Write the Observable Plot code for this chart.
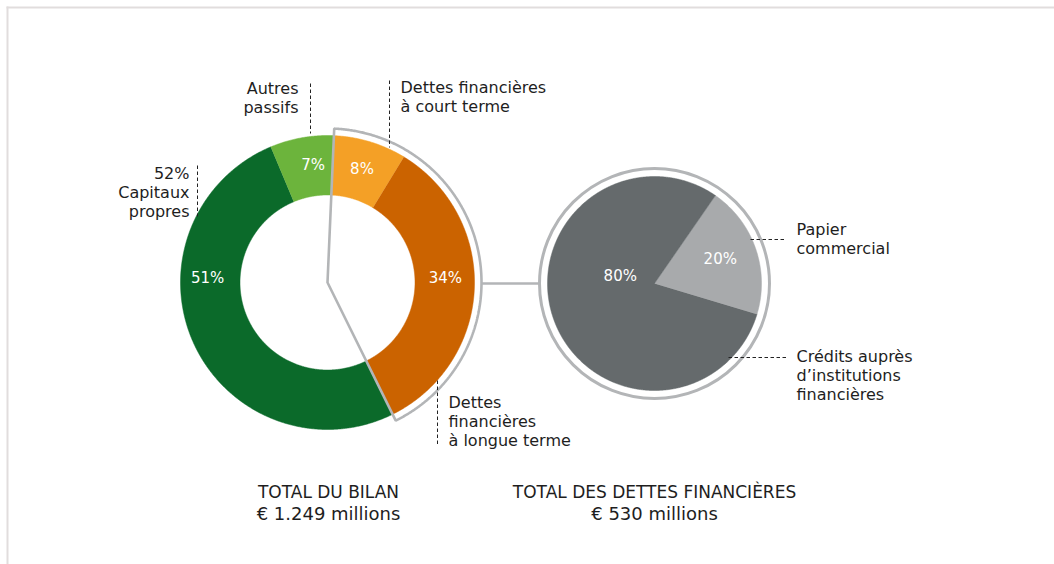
<!DOCTYPE html>
<html><head><meta charset="utf-8">
<script src="https://cdn.jsdelivr.net/npm/d3@7"></script>
<script src="https://cdn.jsdelivr.net/npm/@observablehq/plot@0.6"></script>
<style>html,body{margin:0;padding:0;background:#fff}#chart svg{display:block}</style>
</head><body><div id="chart"></div>
<script>
// ---- data ----
const bilanCategories = ["Dettes financières à court terme", "Dettes financières à longue terme", "Capitaux propres", "Autres passifs"];
const bilanValues = [8, 34, 51, 7];
const bilanLabels = ["8%", "34%", "51%", "7%"];
const detteCategories = ["Papier commercial", "Crédits auprès d’institutions financières"];
const detteValues = [20, 80];
const detteLabels = ["20%", "80%"];
const annotationTexts = [
  "Dettes financières\nà court terme",
  "Dettes\nfinancières\nà longue terme",
  "52%\nCapitaux\npropres",
  "Autres\npassifs",
  "Papier\ncommercial",
  "Crédits auprès\nd’institutions\nfinancières"
];
const totalTitles = ["TOTAL DU BILAN", "TOTAL DES DETTES FINANCIÈRES"];
const totalAmounts = ["€ 1.249 millions", "€ 530 millions"];

// ---- layout & style ----
const W = 1054, H = 564;
const bilanColors = ["#f4a026", "#cb6300", "#0b6a2a", "#6cb43c"];
const detteColors = ["#a8aaac", "#656a6c"];
const outlineColor = "#b3b5b7";
const deg = Math.PI / 180;
const donut = {cx: 327, cy: 282, r0: 87.5, r1: 147, rot: 2.5 * deg, outlineR: 154};
const pie = {cx: 654, cy: 283, r: 107, outlineR: 115, rot: 34.7 * deg};
const bilanLabelPos = [{a: 17, r: 118}, {a: 88, r: 118}, {a: 272, r: 120}, {a: 353, r: 118}];
const detteLabelPos = [{a: 70, r: 70}, {a: 282, r: 35}];
const annotLayout = [
  {x: 400, y: 96, anchor: "start", lx1: 389, ly1: 80, lx2: 389, ly2: 147},
  {x: 448, y: 420, anchor: "start", lx1: 437, ly1: 380, lx2: 437, ly2: 445},
  {x: 189, y: 191.5, anchor: "end", lx1: 197, ly1: 165, lx2: 197, ly2: 216},
  {x: 298, y: 97, anchor: "end", lx1: 310, ly1: 83, lx2: 310, ly2: 133},
  {x: 796, y: 237.5, anchor: "start", lx1: 750, ly1: 239, lx2: 786, ly2: 239},
  {x: 796, y: 374, anchor: "start", lx1: 728, ly1: 357, lx2: 786, ly2: 357}
];
const totalX = [328, 654];

// ---- geometry from values ----
const polar = (c, r, a) => ({x: c.cx + r * Math.sin(a), y: c.cy - r * Math.cos(a)});
function slicePoints(key, color, c, r0, r1, a0, a1) {
  const n = Math.max(2, Math.ceil((a1 - a0) / (0.4 * deg)));
  const pts = [];
  for (let i = 0; i <= n; i++) pts.push({key, color, ...polar(c, r1, a0 + (a1 - a0) * i / n)});
  if (r0 > 0) for (let i = n; i >= 0; i--) pts.push({key, color, ...polar(c, r0, a0 + (a1 - a0) * i / n)});
  else pts.push({key, color, x: c.cx, y: c.cy});
  return pts;
}
const bilanArcs = d3.pie().sort(null).startAngle(donut.rot).endAngle(donut.rot + 2 * Math.PI)(bilanValues);
const detteArcs = d3.pie().sort(null).startAngle(pie.rot).endAngle(pie.rot + 2 * Math.PI)(detteValues);

const slices = [];
bilanArcs.forEach((a, i) => slices.push(...slicePoints(bilanCategories[i], bilanColors[i], donut, donut.r0, donut.r1, a.startAngle, a.endAngle)));
detteArcs.forEach((a, i) => slices.push(...slicePoints(detteCategories[i], detteColors[i], pie, 0, pie.r, a.startAngle, a.endAngle)));

// exploded wedge outline covering the financial debts (first two slices)
const wA0 = bilanArcs[0].startAngle, wA1 = bilanArcs[1].endAngle;
const wedge = [{x: donut.cx, y: donut.cy}, ...slicePoints("w", "", donut, 0, donut.outlineR, wA0, wA1).slice(0, -1), {x: donut.cx, y: donut.cy}];
const connector = [{x1: donut.cx + donut.outlineR, y1: donut.cy + 1, x2: pie.cx - pie.outlineR, y2: pie.cy}];

const pctLabels = [
  ...bilanLabels.map((t, i) => ({t, ...polar(donut, bilanLabelPos[i].r, bilanLabelPos[i].a * deg)})),
  ...detteLabels.map((t, i) => ({t, ...polar(pie, detteLabelPos[i].r, detteLabelPos[i].a * deg)}))
];
const annots = annotationTexts.map((t, i) => ({t, ...annotLayout[i]}));
const frame = [{x1: 6, y1: 7, x2: W, y2: 7}, {x1: 7, y1: 6, x2: 7, y2: H}];

const font = "'DejaVu Sans', sans-serif";
const ink = "#1e1e1e";
const chart = Plot.plot({
  width: W, height: H,
  margin: 0,
  x: {domain: [0, W], range: [0, W], axis: null},
  y: {domain: [0, H], range: [0, H], axis: null},
  color: {type: "identity"},
  style: {fontFamily: font, background: "#fff"},
  marks: [
    Plot.link(frame, {x1: "x1", y1: "y1", x2: "x2", y2: "y2", stroke: "#e1dddd", strokeWidth: 2}),
    Plot.line(slices, {x: "x", y: "y", z: "key", fill: "color", stroke: "color", strokeWidth: 0.5, curve: "linear"}),
    Plot.line(wedge, {x: "x", y: "y", stroke: outlineColor, strokeWidth: 2.6, strokeLinejoin: "miter", curve: "linear"}),
    Plot.link(connector, {x1: "x1", y1: "y1", x2: "x2", y2: "y2", stroke: outlineColor, strokeWidth: 2.6}),
    Plot.dot([{x: pie.cx, y: pie.cy}], {x: "x", y: "y", r: pie.outlineR, fill: "none", stroke: outlineColor, strokeWidth: 3}),
    Plot.link(annots, {x1: "lx1", y1: "ly1", x2: "lx2", y2: "ly2", stroke: "#222", strokeWidth: 1, strokeDasharray: "3.5,2.5"}),
    Plot.text(annots.filter(d => d.anchor === "start"), {x: "x", y: "y", text: "t", textAnchor: "start", lineAnchor: "middle", lineHeight: 1.19, fontSize: 16, fill: ink}),
    Plot.text(annots.filter(d => d.anchor === "end"), {x: "x", y: "y", text: "t", textAnchor: "end", lineAnchor: "middle", lineHeight: 1.19, fontSize: 16, fill: ink}),
    Plot.text(pctLabels, {x: "x", y: "y", text: "t", fill: "#fff", fontSize: 15, lineAnchor: "middle"}),
    Plot.text(totalTitles.map((t, i) => ({t, x: totalX[i], y: 492})), {x: "x", y: "y", text: "t", fontSize: 17, fill: ink, lineAnchor: "middle"}),
    Plot.text(totalAmounts.map((t, i) => ({t, x: totalX[i], y: 514})), {x: "x", y: "y", text: "t", fontSize: 18, fill: ink, lineAnchor: "middle"})
  ]
});
document.getElementById("chart").appendChild(chart);
</script>
</body></html>
